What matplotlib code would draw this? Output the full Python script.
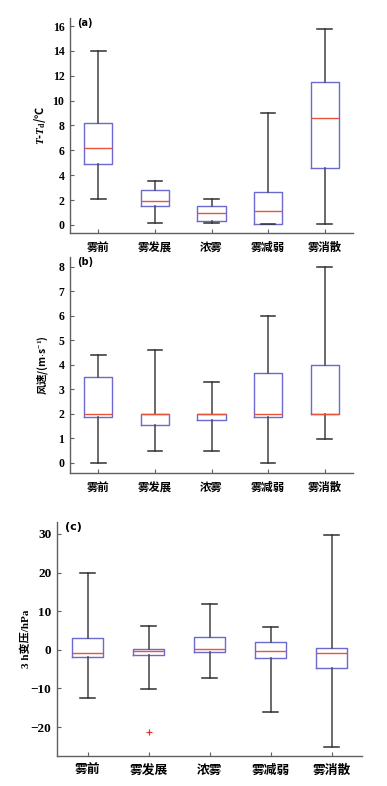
import matplotlib
matplotlib.use("Agg")
import matplotlib.pyplot as plt

plt.rcParams['font.family'] = ['Liberation Serif', 'Noto Sans CJK SC', 'DejaVu Sans']
plt.rcParams['mathtext.fontset'] = 'custom'
plt.rcParams['mathtext.it'] = 'Liberation Serif:italic:bold'
plt.rcParams['mathtext.rm'] = 'Liberation Serif:bold'
plt.rcParams['mathtext.bf'] = 'Liberation Serif:bold'

categories = ['雾前', '雾发展', '浓雾', '雾减弱', '雾消散']

# (a) T - Td
a_low = [2.05, 0.15, 0.15, 0.05, 0.05]
a_q1 = [4.9, 1.5, 0.35, 0.05, 4.6]
a_med = [6.2, 1.95, 0.95, 1.1, 8.6]
a_q3 = [8.2, 2.8, 1.5, 2.65, 11.5]
a_high = [14.0, 3.55, 2.05, 9.0, 15.8]

# (b) wind speed
b_low = [0.0, 0.49, 0.49, 0.0, 0.99]
b_q1 = [1.88, 1.54, 1.77, 1.87, 2.0]
b_med = [2.0, 2.0, 2.0, 2.0, 2.0]
b_q3 = [3.5, 2.0, 2.0, 3.65, 4.0]
b_high = [4.39, 4.61, 3.29, 6.0, 8.0]

# (c) 3 h pressure change
c_low = [-12.6, -10.1, -7.2, -16.2, -25.1]
c_q1 = [-1.98, -1.46, -0.68, -2.2, -4.8]
c_med = [-0.76, -0.33, 0.28, -0.33, -0.94]
c_q3 = [2.96, 0.2, 3.4, 2.1, 0.36]
c_high = [19.9, 6.1, 11.8, 5.8, 29.8]
c_fliers = [[], [-21.2], [], [], []]

W, H = 387, 786
fig = plt.figure(figsize=(W / 100, H / 100), dpi=100)

def pos(l, r, t, b):
    return [l / W, 1 - b / H, (r - l) / W, (b - t) / H]

box_c = '#6a6ad0'
med_c = '#e8553a'
wh_c = '#505050'
sp_c = '#606060'

def panel(rect, low, q1, med, q3, high, fliers, ylim, yticks, ylabel, lab_family, tag,
          fs_num, fs_cjk, fs_lab, ylabpad):
    ax = fig.add_axes(rect)
    stats = []
    for i in range(len(categories)):
        stats.append(dict(whislo=low[i], q1=q1[i], med=med[i], q3=q3[i],
                          whishi=high[i], fliers=fliers[i] if fliers else []))
    ax.bxp(stats, positions=range(1, 6), widths=0.5, capwidths=0.26,
           boxprops=dict(color=box_c, lw=1.0),
           medianprops=dict(color=med_c, lw=1.0),
           whiskerprops=dict(color=wh_c, lw=1.2),
           capprops=dict(color='#303030', lw=1.1),
           flierprops=dict(marker='+', markeredgecolor='#e83030', markersize=5, mew=0.9))
    ax.set_xlim(0.5, 5.5)
    ax.set_ylim(*ylim)
    ax.set_yticks(yticks)
    ax.set_xticks(range(1, 6))
    ax.set_xticklabels(categories, fontsize=fs_cjk, fontweight='bold',
                       family=['Noto Sans CJK SC'])
    for lab in ax.get_yticklabels():
        lab.set_fontsize(fs_num)
        lab.set_fontweight('bold')
    ax.spines['top'].set_visible(False)
    ax.spines['right'].set_visible(False)
    for s in ('left', 'bottom'):
        ax.spines[s].set_color(sp_c)
        ax.spines[s].set_linewidth(1.0)
    ax.tick_params(direction='in', length=3, width=0.8, color=sp_c)
    ax.tick_params(axis='x', pad=6)
    ax.tick_params(axis='y', pad=4)
    ax.set_ylabel(ylabel, fontsize=fs_lab, fontweight='bold', labelpad=ylabpad,
                  family=lab_family)
    ax.text(0.025, 1.0, tag, transform=ax.transAxes, fontsize=fs_num - 1.5,
            fontweight='bold', va='top', ha='left', family=['DejaVu Sans'])
    return ax

panel(pos(70, 353, 18, 233), a_low, a_q1, a_med, a_q3, a_high, None,
      (-0.65, 16.65), range(0, 17, 2), r'$T$-$T_{\mathrm{d}}$/℃', 'Noto Sans CJK SC', '(a)',
      8.5, 8.2, 8, 3)
panel(pos(70, 353, 257, 473), b_low, b_q1, b_med, b_q3, b_high, None,
      (-0.41, 8.4), range(0, 9), r'风速/(m$\cdot$s$^{-1}$)', 'Noto Sans CJK SC', '(b)',
      8.5, 8.2, 7.5, 6)
panel(pos(57, 362, 522, 756), c_low, c_q1, c_med, c_q3, c_high, c_fliers,
      (-27.5, 33.1), [-20, -10, 0, 10, 20, 30], '3 h变压/hPa',
      ['Liberation Serif', 'Noto Sans CJK SC'], '(c)',
      9.5, 9.2, 8, 0)

fig.savefig('out.png', dpi=100)
